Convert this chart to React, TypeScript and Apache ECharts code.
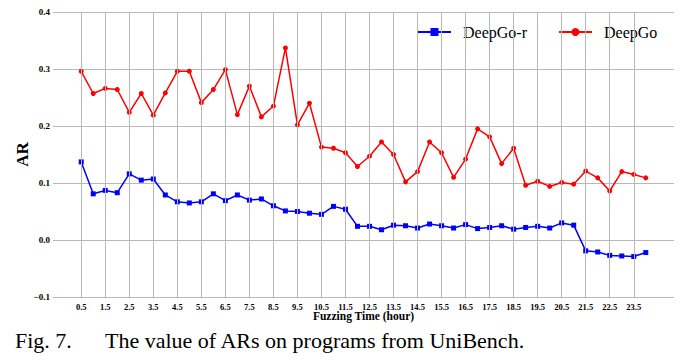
import React, { useEffect, useRef } from "react";
import * as echarts from "echarts";

const xHours = [
  0.5, 1.0, 1.5, 2.0, 2.5, 3.0, 3.5, 4.0, 4.5, 5.0, 5.5, 6.0, 6.5, 7.0, 7.5, 8.0,
  8.5, 9.0, 9.5, 10.0, 10.5, 11.0, 11.5, 12.0, 12.5, 13.0, 13.5, 14.0, 14.5, 15.0, 15.5, 16.0,
  16.5, 17.0, 17.5, 18.0, 18.5, 19.0, 19.5, 20.0, 20.5, 21.0, 21.5, 22.0, 22.5, 23.0, 23.5, 24.0,
];

const deepGo = [
  0.296, 0.257, 0.266, 0.264, 0.224, 0.257, 0.219, 0.258, 0.296, 0.296, 0.241, 0.264, 0.299, 0.220, 0.270, 0.216,
  0.235, 0.337, 0.202, 0.240, 0.163, 0.161, 0.153, 0.129, 0.147, 0.172, 0.150, 0.102, 0.120, 0.172, 0.153, 0.110,
  0.142, 0.195, 0.181, 0.134, 0.161, 0.096, 0.103, 0.094, 0.101, 0.098, 0.121, 0.109, 0.086, 0.120, 0.115, 0.109,
];

const deepGoR = [
  0.137, 0.081, 0.087, 0.083, 0.116, 0.105, 0.107, 0.079, 0.067, 0.065, 0.067, 0.081, 0.069, 0.079, 0.070, 0.072,
  0.060, 0.051, 0.050, 0.047, 0.045, 0.059, 0.054, 0.024, 0.024, 0.018, 0.026, 0.025, 0.021, 0.028, 0.025, 0.021,
  0.027, 0.020, 0.022, 0.025, 0.019, 0.022, 0.024, 0.021, 0.030, 0.026, -0.019, -0.021, -0.027, -0.028, -0.029, -0.022,
];

const xTicks = [
  0.5, 1.5, 2.5, 3.5, 4.5, 5.5, 6.5, 7.5, 8.5, 9.5, 10.5, 11.5,
  12.5, 13.5, 14.5, 15.5, 16.5, 17.5, 18.5, 19.5, 20.5, 21.5, 22.5, 23.5,
];

const serif = "Liberation Serif";

export default function App() {
  const ref = useRef<HTMLDivElement>(null);

  useEffect(() => {
    if (!ref.current) return;
    const chart = echarts.init(ref.current, null, { renderer: "svg" });
    const gridColor = "#b8b8b8";
    chart.setOption({
      animation: false,
      backgroundColor: "#ffffff",
      grid: { left: 53, right: 7, top: 12, bottom: 67, containLabel: false },
      legend: {
        left: 412,
        top: 19,
        itemWidth: 33,
        itemHeight: 10,
        itemGap: 31,
        textStyle: {
          fontFamily: serif,
          fontSize: 16,
          color: "#000",
          padding: [0, 0, 0, 7],
        },
        data: ["DeepGo-r", "DeepGo"],
      },
      xAxis: {
        type: "value",
        min: -0.675,
        max: 25.175,
        name: "Fuzzing Time (hour)",
        nameLocation: "middle",
        nameGap: 13,
        nameMoveOverlap: false,
        nameTextStyle: { fontFamily: serif, fontSize: 11.5, fontWeight: "bold", color: "#000", verticalAlign: "top" },
        axisLine: { show: false },
        axisTick: { show: false, customValues: xTicks },
        axisLabel: {
          customValues: xTicks,
          formatter: (v: number) => v.toFixed(1),
          fontFamily: serif,
          fontSize: 8.5,
          fontWeight: "bold",
          color: "#000",
          margin: 5,
        },
        splitLine: { show: false },
      },
      yAxis: {
        type: "value",
        min: -0.1,
        max: 0.4,
        interval: 0.1,
        name: "AR",
        nameLocation: "middle",
        nameGap: 22,
        nameMoveOverlap: false,
        nameTextStyle: { fontFamily: serif, fontSize: 17, fontWeight: "bold", color: "#000" },
        axisLine: { show: false },
        axisTick: { show: false },
        axisLabel: {
          formatter: (v: number) => v.toFixed(1).replace("-", "\u2212"),
          fontFamily: serif,
          fontSize: 9,
          fontWeight: "bold",
          color: "#000",
          margin: 3,
        },
        splitLine: { show: true, lineStyle: { color: gridColor, width: 1 } },
      },
      series: [
        {
          name: "grid-x",
          type: "line",
          data: [],
          z: 1,
          silent: true,
          markLine: {
            silent: true,
            symbol: "none",
            label: { show: false },
            lineStyle: { color: gridColor, width: 1, type: "solid" },
            data: xTicks.map((t) => ({ xAxis: t })),
          },
        },
        {
          name: "DeepGo-r",
          type: "line",
          z: 3,
          data: xHours.map((x, i) => [x, deepGoR[i]]),
          symbol: "rect",
          symbolSize: 5,
          lineStyle: { color: "#0000ff", width: 1.5 },
          itemStyle: { color: "#0000ff" },
        },
        {
          name: "DeepGo",
          type: "line",
          z: 3,
          data: xHours.map((x, i) => [x, deepGo[i]]),
          symbol: "circle",
          symbolSize: 5,
          lineStyle: { color: "#ff0000", width: 1.5 },
          itemStyle: { color: "#ff0000" },
        },
      ],
      graphic: [
        {
          type: "text",
          left: 15,
          top: 329,
          style: { text: "Fig. 7.", font: `22px "Liberation Serif"`, fill: "#000" },
        },
        {
          type: "text",
          left: 105,
          top: 329,
          style: { text: "The value of ARs on programs from UniBench.", font: `22px "Liberation Serif"`, fill: "#000" },
        },
      ],
    });
    return () => chart.dispose();
  }, []);

  return <div ref={ref} style={{ width: 681, height: 364, position: "absolute", left: 0, top: 0 }} />;
}
